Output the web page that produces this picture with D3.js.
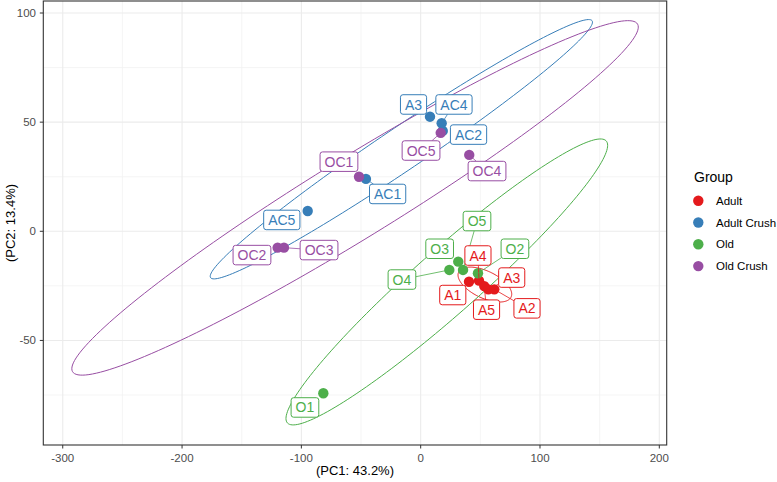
<!DOCTYPE html>
<html><head><meta charset="utf-8">
<script src="https://cdn.jsdelivr.net/npm/d3@7"></script>
<style>body{margin:0;background:#fff}svg{display:block}text{font-family:"Liberation Sans",Arial,sans-serif}</style>
</head><body><svg id="c" width="777" height="482"></svg>
<script>
// ---- data ----
const groups = ["Adult", "Adult Crush", "Old", "Old Crush"];
const groupColors = ["#E41A1C", "#377EB8", "#4DAF4A", "#984EA3"];
const sampleNames = ["A1","A4","A5","A3","A2", "A3","AC4","AC2","AC1","AC5", "O4","O3","O5","O2","O1", "OC5","OC4","OC1","OC2","OC3"];
const sampleGroup = [0,0,0,0,0, 1,1,1,1,1, 2,2,2,2,2, 3,3,3,3,3];
const pc1 = [40.5, 48.9, 53.3, 56.7, 61.7,  7.8, 17.6, 18.5, -45.9, -94.7,  24.0, 31.5, 35.5, 48.0, -81.6,  16.8, 40.7, -51.7, -119.9, -114.6];
const pc2 = [-23.1, -22.6, -25.1, -26.6, -26.6,  52.5, 49.5, 46.0, 24.0, 9.3,  -17.7, -13.9, -17.7, -19.2, -74.2,  45.1, 35.0, 25.0, -7.5, -7.5];
// repelled label anchor (data units)
const labelPC1 = [26.9, 48.0, 55.2, 76.3, 89.1,  -6.0, 27.9, 40.1, -27.7, -116.4,  -15.7, 15.9, 47.2, 79.0, -97.0,  0.3, 55.6, -68.5, -141.4, -85.2];
const labelPC2 = [-29.2, -11.1, -35.9, -21.2, -35.3,  58.1, 58.1, 44.3, 17.1, 5.2,  -22.1, -8.0, 4.7, -8.0, -80.7,  37.0, 27.6, 31.9, -10.9, -8.6];
// ellipse parameters per group: x = cx + ax*cos t, y = cy + ay*cos(t - phi)
const ellCx = [53.8, -16.2, 21.9, -55.0];
const ellCy = [-24.4, 37.6, -23.2, 15.3];
const ellAx = [22.5, 160.2, 134.8, 237.4];
const ellAy = [8.0, 59.4, 65.5, 81.2];
const ellPhi = [2.15, 0.20, 0.30, 0.27];
const xTicks = [-300, -200, -100, 0, 100, 200];
const yTicks = [-50, 0, 50, 100];
const xMinor = [-250, -150, -50, 50, 150];
const yMinor = [-75, -25, 25, 75];

// ---- layout ----
const svg = d3.select("#c");
const L = 43.3, R = 666.7, T = 1, B = 445;
const x = d3.scaleLinear().domain([-316.3, 206.2]).range([L, R]);
const y = d3.scaleLinear().domain([-97.9, 105.5]).range([B, T]);

// grid
const g = svg.append("g");
g.selectAll(".xm").data(xMinor).enter().append("line")
  .attr("x1", d => x(d)).attr("x2", d => x(d)).attr("y1", T).attr("y2", B)
  .attr("stroke", "#f2f2f2").attr("stroke-width", 0.8);
g.selectAll(".ym").data(yMinor).enter().append("line")
  .attr("y1", d => y(d)).attr("y2", d => y(d)).attr("x1", L).attr("x2", R)
  .attr("stroke", "#f2f2f2").attr("stroke-width", 0.8);
g.selectAll(".xM").data(xTicks).enter().append("line")
  .attr("x1", d => x(d)).attr("x2", d => x(d)).attr("y1", T).attr("y2", B)
  .attr("stroke", "#ebebeb").attr("stroke-width", 1.1);
g.selectAll(".yM").data(yTicks).enter().append("line")
  .attr("y1", d => y(d)).attr("y2", d => y(d)).attr("x1", L).attr("x2", R)
  .attr("stroke", "#ebebeb").attr("stroke-width", 1.1);

// ellipses
const tt = d3.range(0, 361, 2).map(d => d * Math.PI / 180);
groups.forEach((gr, i) => {
  const pts = tt.map(t => [x(ellCx[i] + ellAx[i] * Math.cos(t)), y(ellCy[i] + ellAy[i] * Math.cos(t - ellPhi[i]))]);
  svg.append("path").attr("d", d3.line().curve(d3.curveLinearClosed)(pts))
    .attr("fill", "none").attr("stroke", groupColors[i]).attr("stroke-width", 1);
});

// points
const idx = d3.range(sampleNames.length);
svg.selectAll(".pt").data(idx).enter().append("circle")
  .attr("cx", i => x(pc1[i])).attr("cy", i => y(pc2[i])).attr("r", 5.2)
  .attr("fill", i => groupColors[sampleGroup[i]]);

// labels
const fs = 14, pad = 4.5, bh = 19.5;
const lg = svg.append("g");
idx.forEach(i => {
  const col = groupColors[sampleGroup[i]];
  const lx = x(labelPC1[i]), ly = y(labelPC2[i]);
  const txt = lg.append("text").attr("x", lx).attr("y", ly + fs * 0.36)
    .attr("text-anchor", "middle").attr("font-size", fs).attr("fill", col).text(sampleNames[i]);
  const tw = txt.node().getComputedTextLength();
  const bw = tw + 2 * pad;
  // segment from point to box edge
  const px = x(pc1[i]), py = y(pc2[i]);
  const dx = px - lx, dy = py - ly;
  const s = Math.min(Math.abs(dx) > 0 ? (bw / 2) / Math.abs(dx) : Infinity, Math.abs(dy) > 0 ? (bh / 2) / Math.abs(dy) : Infinity);
  if (s < 1) {
    const ex = lx + dx * s, ey = ly + dy * s;
    const len = Math.hypot(px - ex, py - ey);
    if (len > 9) {
      lg.insert("line", "text").attr("x1", px).attr("y1", py).attr("x2", ex).attr("y2", ey)
        .attr("stroke", col).attr("stroke-width", 0.8);
    }
  }
  lg.insert("rect", "text:last-child").attr("x", lx - bw / 2).attr("y", ly - bh / 2)
    .attr("width", bw).attr("height", bh).attr("rx", 2.5)
    .attr("fill", "#fff").attr("stroke", col).attr("stroke-width", 1);
  txt.raise();
});

// panel border
svg.append("rect").attr("x", L).attr("y", T).attr("width", R - L).attr("height", B - T)
  .attr("fill", "none").attr("stroke", "#333").attr("stroke-width", 1.1);

// ticks
svg.selectAll(".xt").data(xTicks).enter().append("line")
  .attr("x1", d => x(d)).attr("x2", d => x(d)).attr("y1", B).attr("y2", B + 3.5)
  .attr("stroke", "#333").attr("stroke-width", 1);
svg.selectAll(".yt").data(yTicks).enter().append("line")
  .attr("y1", d => y(d)).attr("y2", d => y(d)).attr("x1", L - 3.5).attr("x2", L)
  .attr("stroke", "#333").attr("stroke-width", 1);
svg.selectAll(".xl").data(xTicks).enter().append("text")
  .attr("x", d => x(d)).attr("y", 462).attr("text-anchor", "middle")
  .attr("font-size", 11.5).attr("fill", "#4d4d4d").text(d => d);
svg.selectAll(".yl").data(yTicks).enter().append("text")
  .attr("x", 36).attr("y", d => y(d) + 4).attr("text-anchor", "end")
  .attr("font-size", 11.5).attr("fill", "#4d4d4d").text(d => d);

// axis titles
svg.append("text").attr("x", (L + R) / 2).attr("y", 475).attr("text-anchor", "middle")
  .attr("font-size", 13).attr("fill", "#000").text("(PC1: 43.2%)");
svg.append("text").attr("transform", `translate(15,${(T + B) / 2}) rotate(-90)`)
  .attr("text-anchor", "middle").attr("font-size", 13).attr("fill", "#000").text("(PC2: 13.4%)");

// legend
svg.append("text").attr("x", 694).attr("y", 182).attr("font-size", 14).attr("fill", "#000").text("Group");
groups.forEach((gr, i) => {
  const cy = 200.7 + i * 21.8;
  svg.append("circle").attr("cx", 698.3).attr("cy", cy).attr("r", 5.2).attr("fill", groupColors[i]);
  svg.append("text").attr("x", 716).attr("y", cy + 4).attr("font-size", 11.5).attr("fill", "#000").text(gr);
});
</script></body></html>
